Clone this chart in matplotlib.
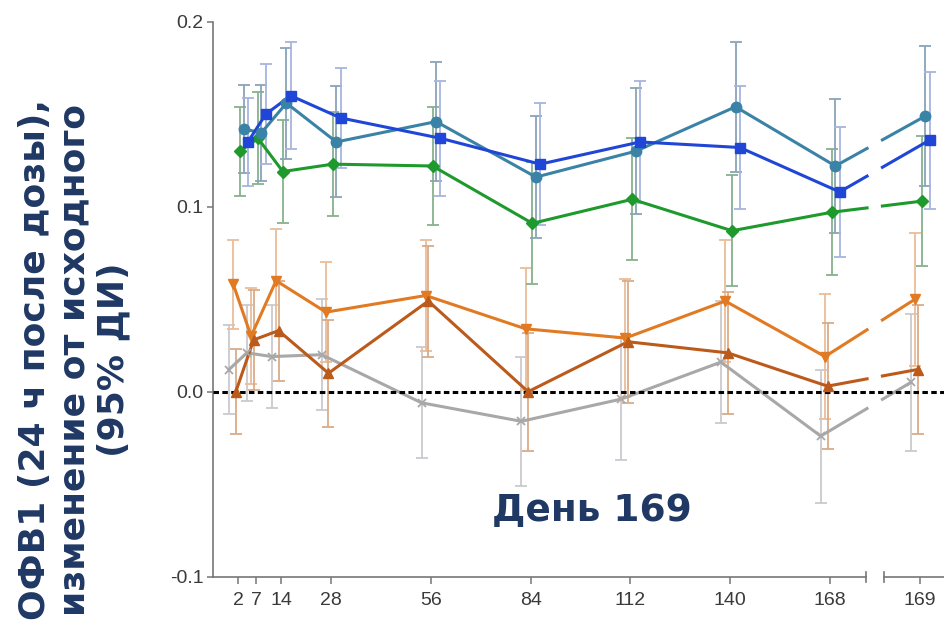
import numpy as np
import matplotlib
matplotlib.use("Agg")
import matplotlib.pyplot as plt
import matplotlib.transforms as mtransforms

# ==========================================
# data
# ==========================================
days = [2, 7, 14, 28, 56, 84, 112, 140, 168, 169]
day_labels = ["2", "7", "14", "28", "56", "84", "112", "140", "168", "169"]

gray_vals = [0.012, 0.021, 0.019, 0.020, -0.006, -0.016, -0.004, 0.016, -0.024, 0.005]
gray_err = [0.024, 0.026, 0.028, 0.030, 0.030, 0.035, 0.033, 0.033, 0.036, 0.037]

lorange_vals = [0.058, 0.030, 0.060, 0.043, 0.052, 0.034, 0.029, 0.049, 0.019, 0.050]
lorange_err = [0.024, 0.026, 0.028, 0.027, 0.030, 0.033, 0.032, 0.033, 0.034, 0.036]

dorange_vals = [0.000, 0.028, 0.033, 0.010, 0.049, 0.000, 0.027, 0.021, 0.003, 0.012]
dorange_err = [0.023, 0.027, 0.027, 0.029, 0.030, 0.032, 0.033, 0.033, 0.034, 0.035]

green_vals = [0.130, 0.137, 0.119, 0.123, 0.122, 0.091, 0.104, 0.087, 0.097, 0.103]
green_err = [0.024, 0.025, 0.028, 0.028, 0.032, 0.033, 0.033, 0.030, 0.034, 0.035]

teal_vals = [0.142, 0.140, 0.156, 0.135, 0.146, 0.116, 0.130, 0.154, 0.122, 0.149]
teal_err = [0.024, 0.026, 0.030, 0.030, 0.032, 0.033, 0.034, 0.035, 0.036, 0.038]

blue_vals = [0.135, 0.150, 0.160, 0.148, 0.137, 0.123, 0.135, 0.132, 0.108, 0.136]
blue_err = [0.024, 0.027, 0.029, 0.027, 0.031, 0.033, 0.033, 0.033, 0.035, 0.037]

# ==========================================
# layout / style
# ==========================================
DAY169_POS = 193.25          # where "169" sits after the axis break
BREAK_LO, BREAK_HI = 178.1, 183.2
NAVY = "#1f3864"

series = [
    # values, errors, line colour, bar colour, marker, size, x offset (days)
    (gray_vals, gray_err, "#a8a8a8", "#c9c9cf", "x", 6, -2.6),
    (lorange_vals, lorange_err, "#e17a22", "#ebbd98", "v", 7.5, -1.4),
    (dorange_vals, dorange_err, "#bb5a1a", "#d9ab88", "^", 7.5, -0.7),
    (green_vals, green_err, "#1e9a2c", "#86b28e", "D", 6, 0.5),
    (teal_vals, teal_err, "#3a82a6", "#8aa4b8", "o", 7.5, 1.5),
    (blue_vals, blue_err, "#1f46d6", "#a7b4de", "s", 7.5, 2.7),
]

x_pos = np.array(days, dtype=float)
x_pos[-1] = DAY169_POS

fig = plt.figure(figsize=(9.45, 6.3), dpi=100)
ax = fig.add_axes([212.7 / 945, 53.3 / 630, 732.3 / 945, 555 / 630])
ax.set_xlim(-5.18, 200.26)
ax.set_ylim(-0.1, 0.2)

# zero reference line
ax.axhline(0, color="black", lw=2.2, linestyle=(0, (1.8, 1.1)), zorder=4)

for vals, err, col, ecol, mk, ms, off in series:
    x = x_pos + off
    y = np.array(vals)
    ax.errorbar(x, y, yerr=err, fmt="none", ecolor=ecol, elinewidth=1.3,
                capsize=4, capthick=1.3, zorder=2)
    # solid part up to day 168
    ax.plot(x[:-1], y[:-1], color=col, lw=2.2, zorder=3)
    # 168 -> 169 segment, interrupted at the axis break
    y_lo = np.interp(BREAK_LO + 0.3, x[-2:], y[-2:])
    y_hi = np.interp(BREAK_HI - 0.5, x[-2:], y[-2:])
    ax.plot([x[-2], BREAK_LO + 0.3], [y[-2], y_lo], color=col, lw=2.2, zorder=3)
    ax.plot([BREAK_HI - 0.5, x[-1]], [y_hi, y[-1]], color=col, lw=2.2, zorder=3)
    mew = 1.3 if mk == "x" else 1.0
    ax.plot(x, y, linestyle="none", marker=mk, markersize=ms, color=col,
            markeredgecolor=col, markeredgewidth=mew, zorder=5)

# axes styling
for s in ["top", "right", "bottom"]:
    ax.spines[s].set_visible(False)
ax.spines["left"].set_color("#777777")
ax.spines["left"].set_linewidth(1.2)

trans = mtransforms.blended_transform_factory(ax.transData, ax.transAxes)
axis_kw = dict(color="#777777", lw=1.2, transform=trans, clip_on=False, zorder=6)
ax.plot([-5.18, BREAK_LO], [0, 0], **axis_kw)
ax.plot([BREAK_HI, 200.26], [0, 0], **axis_kw)
ax.plot([BREAK_LO, BREAK_LO], [-0.009, 0.009], **axis_kw)
ax.plot([BREAK_HI, BREAK_HI], [-0.009, 0.009], **axis_kw)

ax.set_xticks(x_pos)
ax.set_xticklabels(day_labels)
ax.set_yticks([0.2, 0.1, 0.0, -0.1])
ax.set_yticklabels(["0.2", "0.1", "0.0", "-0.1"])
ax.tick_params(axis="x", length=5, width=1.1, color="#777777", pad=6,
               labelsize=14, labelcolor="#3a3a3a")
ax.tick_params(axis="y", length=4.5, width=1.1, color="#777777", pad=2,
               labelsize=14, labelcolor="#3a3a3a")
for lab in ax.get_xticklabels() + ax.get_yticklabels():
    lab.set_fontfamily("Liberation Sans")

fig.text(592 / 945, 1 - 511 / 630, "День 169", ha="center", va="center",
         fontsize=27, fontweight="heavy", color=NAVY)

fig.text(74 / 945, 1 - 360 / 630,
         "ОФВ1 (24 ч после дозы),\nизменение от исходного\n(95% ДИ)",
         rotation=90, ha="center", va="center", multialignment="center",
         fontsize=26, fontweight="heavy", color=NAVY, linespacing=1.2)

fig.savefig("out.png", dpi=100)
